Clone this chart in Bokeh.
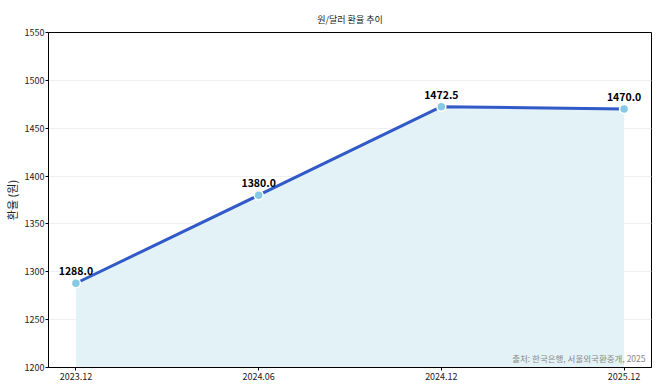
from bokeh.plotting import figure
from bokeh.models import ColumnDataSource, FixedTicker, Range1d, Label, LabelSet
from bokeh.embed import file_html
from bokeh.resources import INLINE
from bokeh.core.properties import value

periods = ["2023.12", "2024.06", "2024.12", "2025.12"]
rates = [1288.0, 1380.0, 1472.5, 1470.0]
y_ticks = [1200, 1250, 1300, 1350, 1400, 1450, 1500, 1550]

FONT = "Noto Sans CJK KR"
xs = list(range(len(periods)))
src = ColumnDataSource(dict(x=xs, y=rates, base=[y_ticks[0]] * len(rates),
                            lab=[f"{v:.1f}" for v in rates]))

p = figure(width=658, height=390, output_backend="svg", toolbar_location=None,
           x_range=Range1d(-0.15, 3.15), y_range=Range1d(y_ticks[0], y_ticks[-1]),
           min_border_left=0, min_border_right=7, min_border_top=32, min_border_bottom=23)

p.title.text = "원/달러 환율 추이"
p.title.align = "center"
p.title.vertical_align = "top"
p.title.text_font = FONT
p.title.text_font_size = "9px"
p.title.text_font_style = "normal"
p.title.text_color = "#222222"
p.title.standoff = 10

p.varea(x="x", y1="base", y2="y", source=src, fill_color="#e3f2f6", fill_alpha=1.0)
p.line(x="x", y="y", source=src, line_color="#3159c8", line_width=3)
p.scatter(x="x", y="y", source=src, size=9, fill_color="#86c9e4", line_color="white", line_width=1.5)

labels = LabelSet(x="x", y="y", text="lab", source=src, text_align="center",
                  text_baseline="bottom", y_offset=8, text_font=value(FONT),
                  text_font_size="10.5px", text_font_style="bold", text_color="black")
p.add_layout(labels)

src_label = Label(x=3.15, y=y_ticks[0], x_offset=-6, y_offset=4, text="출처: 한국은행, 서울외국환중개, 2025",
                  text_align="right", text_baseline="bottom", text_font=FONT,
                  text_font_size="8.5px", text_color="#888888")
p.add_layout(src_label)

p.xaxis.ticker = FixedTicker(ticks=xs)
p.xaxis.major_label_overrides = {i: s for i, s in enumerate(periods)}
p.yaxis.ticker = FixedTicker(ticks=y_ticks)
p.yaxis.axis_label = "환율 (원)"

for ax in (p.xaxis[0], p.yaxis[0]):
    ax.major_label_text_font = FONT
    ax.major_label_text_font_size = "9px"
    ax.major_label_text_color = "#222222"
    ax.axis_line_color = "black"
    ax.major_tick_line_color = "black"
    ax.major_tick_out = 3
    ax.major_tick_in = 0
    ax.minor_tick_line_color = None
    ax.major_label_standoff = 2

p.yaxis.major_label_standoff = 1
p.yaxis.axis_label_text_font = FONT
p.yaxis.axis_label_text_font_size = "11px"
p.yaxis.axis_label_text_font_style = "normal"
p.yaxis.axis_label_text_color = "#222222"
p.yaxis.axis_label_standoff = 2

p.xgrid.grid_line_color = None
p.ygrid.grid_line_color = "#f0f0f0"
p.ygrid.grid_line_width = 1

p.outline_line_color = "black"
p.outline_line_width = 1
p.background_fill_color = "white"
p.border_fill_color = "white"

open("out.html", "w").write(file_html(p, INLINE))
